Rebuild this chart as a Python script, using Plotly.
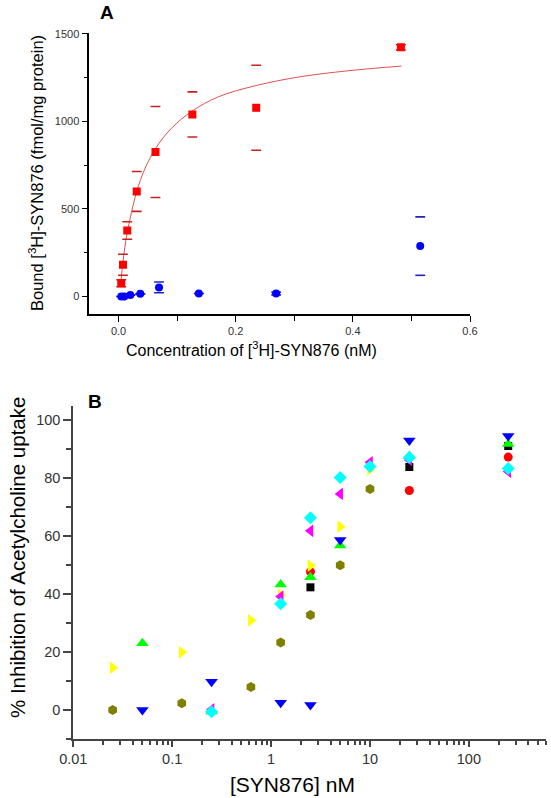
import plotly.graph_objects as go

# ---------------- Panel A data ----------------
red_x = [0.0045, 0.0075, 0.0148, 0.031, 0.063, 0.126, 0.235, 0.482]
red_y = [76, 181, 377, 600, 825, 1040, 1078, 1423]
red_err = [20, 60, 50, 114, 260, 129, 243, 15]

blue_x = [0.0046, 0.0097, 0.020, 0.037, 0.069, 0.137, 0.269, 0.515]
blue_y = [0, 0, 8, 15, 52, 17, 17, 288]
blue_err = [0, 0, 0, 0, 31, 0, 8, 167]

fit_x = [0.0045, 0.0075, 0.0148, 0.031, 0.045, 0.063, 0.09, 0.126, 0.17, 0.235, 0.31, 0.40, 0.483]
fit_y = [100, 200, 365, 600, 730, 845, 960, 1060, 1140, 1205, 1255, 1292, 1316]

# ---------------- Panel B data ----------------
black_x = [2.5, 25, 250]
black_y = [42.3, 83.8, 91.0]
red2_x = [2.5, 25, 250]
red2_y = [47.7, 75.7, 87.2]
green_x = [0.05, 0.25, 1.25, 2.5, 5, 25, 250]
green_y = [23.0, -0.5, 43.3, 45.8, 56.7, 87.6, 91.7]
blue2_x = [0.05, 0.25, 1.25, 2.5, 5, 25, 250]
blue2_y = [0, 9.7, 2.5, 1.7, 58.6, 92.9, 94.5]
yellow_x = [0.025, 0.125, 0.625, 1.25, 2.5, 5, 10]
yellow_y = [14.6, 19.9, 30.9, 39.7, 49.8, 63.2, 83.0]
magenta_x = [0.25, 1.25, 2.5, 5, 10, 25, 250]
magenta_y = [0.2, 39.1, 61.8, 74.5, 85.4, 86.2, 82.2]
cyan_x = [0.25, 1.25, 2.5, 5, 10, 25, 250]
cyan_y = [-0.6, 36.6, 66.3, 80.2, 84.0, 87.1, 83.3]
olive_x = [0.025, 0.125, 0.625, 1.25, 2.5, 5, 10]
olive_y = [0, 2.3, 7.9, 23.3, 32.8, 49.9, 76.2]

W, H = 551, 798
FONT = "Arial, Liberation Sans, sans-serif"

fig = go.Figure()

# Panel A: fit curve
fig.add_trace(go.Scatter(x=fit_x, y=fit_y, mode="lines", line=dict(color="#e05050", width=1, shape="spline"),
                         xaxis="x", yaxis="y", hoverinfo="skip"))
# error caps (caps only, as in the original)
for xs, ys, es, col in [(red_x, red_y, red_err, "#c82020"), (blue_x, blue_y, blue_err, "#2020c0")]:
    up = [y + e for y, e in zip(ys, es)]
    lo = [y - e for y, e in zip(ys, es)]
    fig.add_trace(go.Scatter(x=xs + xs, y=up + lo, mode="markers",
                             marker=dict(symbol="line-ew", size=7, line=dict(color=col, width=1.6)),
                             xaxis="x", yaxis="y", hoverinfo="skip"))
fig.add_trace(go.Scatter(x=red_x, y=red_y, mode="markers",
                         marker=dict(symbol="square", size=8, color="#ff0000"), xaxis="x", yaxis="y"))
fig.add_trace(go.Scatter(x=blue_x, y=blue_y, mode="markers",
                         marker=dict(symbol="circle", size=8, color="#0000ff"), xaxis="x", yaxis="y"))

# Panel B
series_b = [
    (black_x, black_y, "square", "#000000", 8),
    (red2_x, red2_y, "circle", "#ff0000", 9),
    (green_x, green_y, "triangle-up", "#00ff00", 11),
    (blue2_x, blue2_y, "triangle-down", "#0000ff", 11),
    (yellow_x, yellow_y, "triangle-right", "#ffff00", 11),
    (magenta_x, magenta_y, "triangle-left", "#ff00ff", 11),
    (cyan_x, cyan_y, "diamond", "#00ffff", 10),
    (olive_x, olive_y, "hexagon", "#808000", 10),
]
for xs, ys, sym, col, sz in series_b:
    fig.add_trace(go.Scatter(x=xs, y=ys, mode="markers",
                             marker=dict(symbol=sym, size=sz, color=col), xaxis="x2", yaxis="y2"))

def px_x(p):
    return p / W

def px_y(p):
    return 1 - p / H

axis_common = dict(showgrid=False, zeroline=False, showline=True, ticks="outside",
                   mirror=False, automargin=False)

fig.update_layout(
    width=W, height=H, showlegend=False, autosize=False,
    paper_bgcolor="white", plot_bgcolor="white",
    margin=dict(l=0, r=0, t=0, b=0, pad=0),
    font=dict(family=FONT, color="#333333"),
    xaxis=dict(**axis_common, domain=[px_x(89.3), px_x(470)], range=[-0.05, 0.6],
               dtick=0.2, tick0=0, tickformat=".1f", ticklen=6, tickwidth=1, tickcolor="#000",
               linecolor="#000", linewidth=1.5, anchor="y",
               minor=dict(dtick=0.1, tick0=0, ticks="outside", ticklen=5, tickcolor="#000"),
               tickfont=dict(size=11, color="#333333")),
    yaxis=dict(**axis_common, domain=[px_y(314), px_y(33)], range=[-100, 1505],
               dtick=500, tick0=0, ticklen=6, tickwidth=1, tickcolor="#000",
               linecolor="#000", linewidth=1.5, anchor="x",
               minor=dict(dtick=250, tick0=0, ticks="outside", ticklen=4, tickcolor="#000"),
               tickfont=dict(size=11, color="#333333")),
    xaxis2=dict(**axis_common, type="log", domain=[px_x(73.3), px_x(546)], range=[-2, 2.78],
                dtick=1, ticklen=6, tickwidth=1.5, tickcolor="#444",
                linecolor="#444", linewidth=2, anchor="y2",
                minor=dict(dtick="D1", ticks="outside", ticklen=4, tickcolor="#444"),
                tickfont=dict(size=14.5, color="#333333")),
    yaxis2=dict(**axis_common, domain=[px_y(739), px_y(405.5)], range=[-10, 105],
                dtick=20, tick0=0, ticklen=8, tickwidth=1.5, tickcolor="#444",
                linecolor="#444", linewidth=2, anchor="x2",
                minor=dict(dtick=10, tick0=0, ticks="outside", ticklen=5, tickcolor="#444"),
                tickfont=dict(size=14.5, color="#333333")),
)

ann = [
    dict(text="<b>A</b>", x=px_x(107), y=px_y(13), font=dict(size=19, color="#000")),
    dict(text="<b>B</b>", x=px_x(95), y=px_y(401), font=dict(size=19, color="#000")),
    dict(text="Concentration of [<sup>3</sup>H]-SYN876 (nM)", x=px_x(251), y=px_y(349),
         font=dict(size=16, color="#000")),
    dict(text="Bound [<sup>3</sup>H]-SYN876 (fmol/mg protein)", x=px_x(36), y=px_y(173),
         font=dict(size=16.5, color="#000"), textangle=-90),
    dict(text="[SYN876] nM", x=px_x(292), y=px_y(784), font=dict(size=21, color="#000")),
    dict(text="% Inhibition of Acetylcholine uptake", x=px_x(17), y=px_y(558),
         font=dict(size=20.5, color="#000"), textangle=-90),
]
for a in ann:
    fig.add_annotation(xref="paper", yref="paper", showarrow=False, xanchor="center", yanchor="middle", **a)

fig.write_html("out.html", config={"displayModeBar": False},
               post_script="document.body.style.margin='0';document.body.style.padding='0';"
                           "document.body.style.overflow='hidden';")
